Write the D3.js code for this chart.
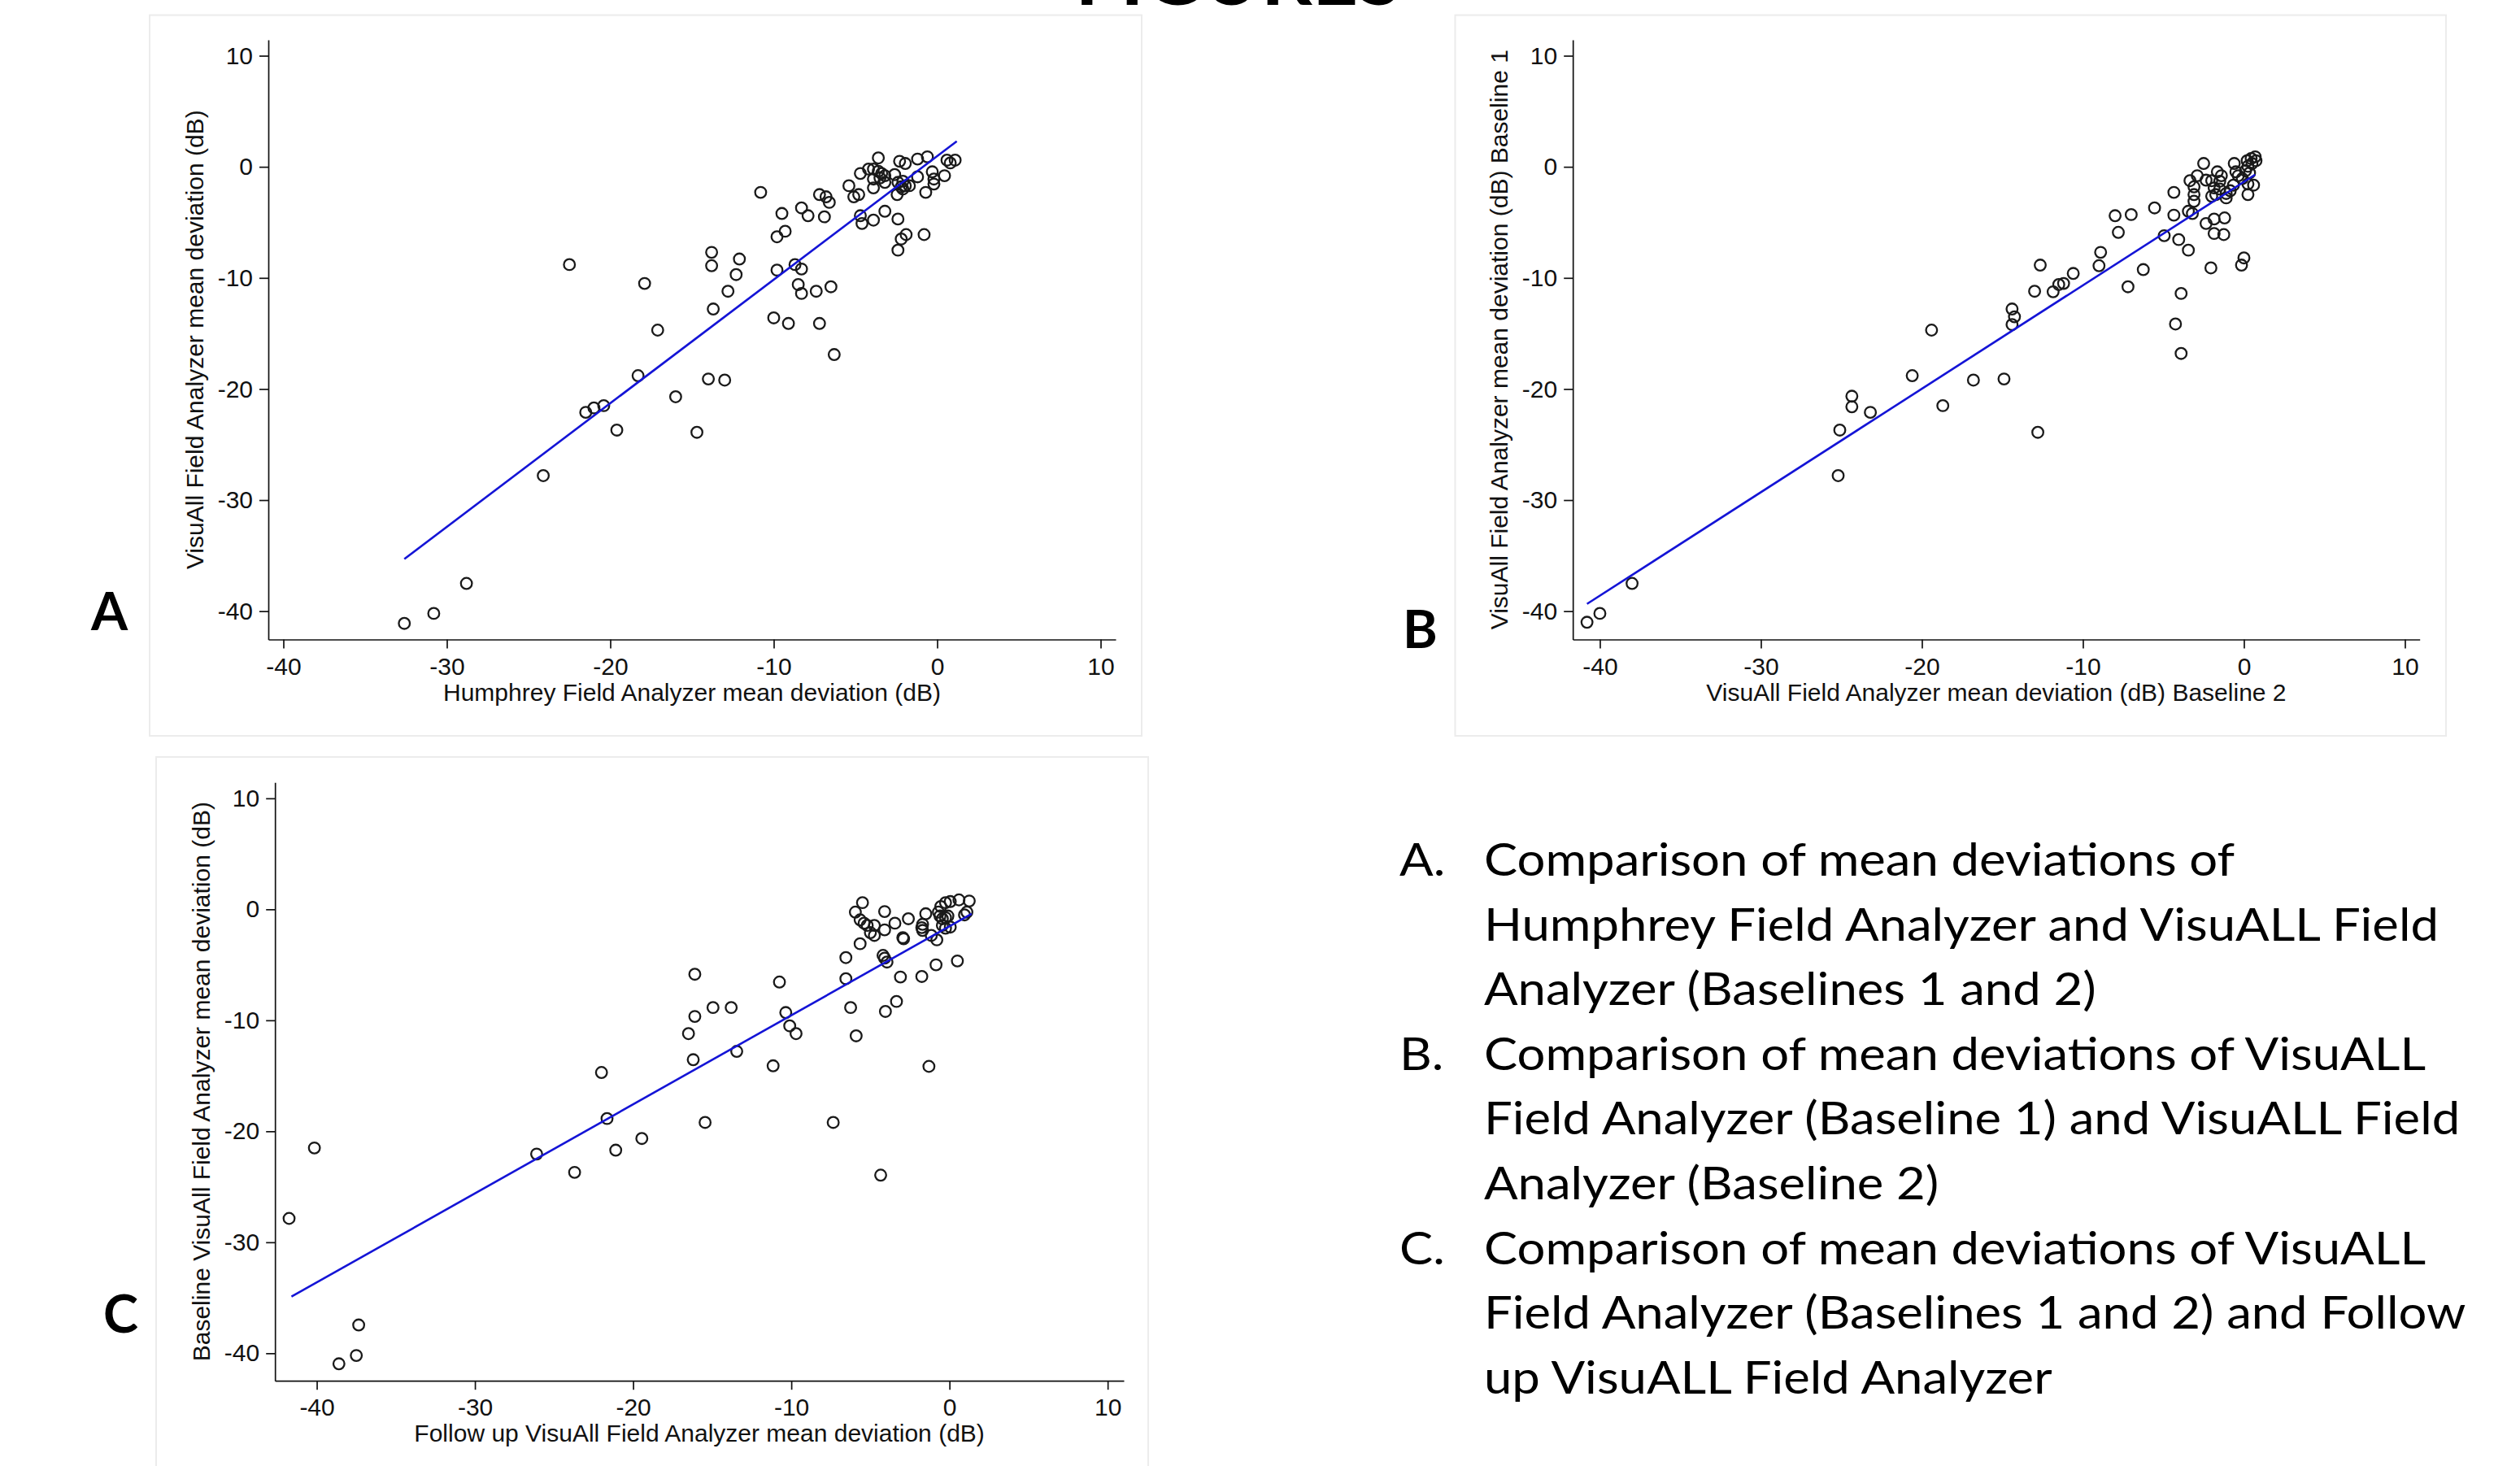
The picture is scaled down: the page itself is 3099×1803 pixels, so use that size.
<!DOCTYPE html>
<html>
<head>
<meta charset="utf-8">
<script src="https://cdn.jsdelivr.net/npm/d3@7"></script>
<style>
  body { margin: 0; background: #fff; }
  svg { display: block; }
</style>
</head>
<body>
<script>
// tick values shared by the three panels
const xTicks = [-40, -30, -20, -10, 0, 10];
const yTicks = [10, 0, -10, -20, -30, -40];

// A: Humphrey MD (x) vs VisuAll MD (y)
const pointsA = [
  [-32.6,-41.1],[-30.8,-40.2],[-28.8,-37.5],[-24.1,-27.8],[-22.5,-8.8],[-17.9,-10.5],[-17.1,-14.7],
  [-18.3,-18.8],[-21.5,-22.1],[-21.0,-21.7],[-20.4,-21.5],[-19.6,-23.7],[-16.0,-20.7],[-14.7,-23.9],
  [-14.0,-19.1],[-13.0,-19.2],[-13.8,-7.7],[-13.8,-8.9],[-13.7,-12.8],[-12.8,-11.2],[-12.3,-9.7],
  [-12.1,-8.3],[-10.8,-2.3],[-9.5,-4.2],[-9.8,-6.3],[-9.3,-5.8],[-10.0,-13.6],[-9.8,-9.3],[-9.1,-14.1],
  [-8.7,-8.8],[-8.3,-9.2],[-8.5,-10.6],[-8.3,-11.4],[-8.3,-3.7],[-7.9,-4.4],[-7.4,-11.2],[-7.2,-14.1],
  [-6.5,-10.8],[-6.3,-16.9],[-7.2,-2.5],[-6.8,-2.7],[-6.6,-3.2],[-6.9,-4.5],
  [-5.4,-1.7],[-5.1,-2.7],[-4.8,-2.5],[-4.7,-0.6],[-4.7,-4.4],[-4.6,-5.1],[-3.9,-4.8],[-3.6,0.8],
  [-4.2,-0.2],[-3.9,-0.2],[-3.6,-0.4],[-3.4,-0.6],[-3.9,-1.1],[-3.5,-1.0],[-3.2,-0.8],[-3.2,-1.4],
  [-3.9,-1.9],[-3.2,-4.0],[-2.6,-0.7],[-2.3,0.5],[-1.95,0.3],[-2.4,-1.4],[-2.1,-1.3],[-1.95,-1.7],
  [-2.2,-1.8],[-1.7,-1.7],[-2.45,-2.5],[-2.1,-2.0],[-2.4,-4.7],[-1.9,-6.1],[-2.2,-6.5],[-2.4,-7.5],
  [-0.8,-6.1],[-1.2,0.7],[-0.6,0.9],[-1.2,-0.9],[-0.7,-2.3],[-0.3,-0.45],[-0.2,-1.1],[-0.2,-1.55],
  [0.45,-0.8],[0.6,0.6],[0.8,0.35],[1.1,0.6]
];
const fitA = [[-32.6, -35.3], [1.2, 2.3]];

// B: VisuAll baseline 2 (x) vs baseline 1 (y)
const pointsB = [
  [-40.8,-41.0],[-40.0,-40.2],[-38.0,-37.5],[-25.2,-27.8],[-25.1,-23.7],[-24.35,-20.65],[-24.35,-21.6],
  [-23.2,-22.1],[-20.6,-18.8],[-19.4,-14.7],[-18.7,-21.5],[-16.8,-19.2],[-14.9,-19.1],[-12.8,-23.9],
  [-12.65,-8.85],[-13.0,-11.2],[-11.85,-11.25],[-11.5,-10.6],[-11.2,-10.5],[-10.6,-9.6],[-14.4,-12.8],
  [-14.25,-13.5],[-14.4,-14.2],[-9.0,-8.9],[-8.9,-7.7],[-8.0,-4.4],[-7.8,-5.9],[-7.0,-4.3],[-7.2,-10.8],
  [-3.9,-11.4],[-4.25,-14.15],[-3.9,-16.8],
  [-6.25,-9.25],[-5.55,-3.7],[-4.95,-6.2],[-4.35,-2.3],[-4.35,-4.35],[-4.05,-6.55],[-3.45,-7.5],
  [-2.5,0.3],[-3.35,-1.25],[-3.1,-1.8],[-3.1,-2.5],[-3.1,-3.1],[-3.45,-4.0],[-3.2,-4.2],[-2.9,-0.8],
  [-2.35,-1.2],[-2.0,-1.25],[-2.35,-5.1],[-1.85,-4.7],[-1.2,-4.6],[-1.85,-6.0],[-1.25,-6.1],[-2.05,-9.1],
  [-0.15,-8.85],[0.0,-8.2],[-1.65,-0.45],[-1.4,-0.8],[-1.5,-1.3],[-1.85,-1.9],[-1.5,-2.0],[-1.75,-2.5],
  [-2.0,-2.65],[-1.1,-2.4],[-1.1,-2.8],[-0.6,0.3],[-0.5,-0.45],[-0.65,-1.65],[-0.85,-2.15],[-0.35,-0.8],
  [-0.1,-1.05],[0.1,-0.35],[0.25,-1.55],[0.6,-1.65],[0.25,-2.5],[0.2,0.55],[0.45,0.75],[0.7,0.9],
  [0.5,0.3],[0.25,0.05],[0.75,0.55],[0.35,-0.55]
];
const fitB = [[-40.8, -39.35], [0.7, -0.7]];

// C: follow up VisuAll (x) vs baseline VisuAll (y)
const pointsC = [
  [-41.75,-27.85],[-40.15,-21.5],[-38.6,-40.95],[-37.5,-40.2],[-37.35,-37.45],[-26.1,-22.05],[-23.7,-23.7],
  [-22.0,-14.7],[-21.65,-18.85],[-21.1,-21.7],[-19.45,-20.65],[-16.1,-5.85],[-16.1,-9.65],[-16.5,-11.2],
  [-16.2,-13.55],[-15.45,-19.2],[-14.95,-8.85],[-13.8,-8.85],[-13.45,-12.8],[-11.15,-14.1],[-10.75,-6.55],
  [-10.35,-9.3],[-10.1,-10.5],[-9.7,-11.2],[-7.35,-19.2],[-6.25,-8.85],[-5.9,-11.4],[-4.35,-23.95],
  [-4.05,-9.2],[-3.35,-8.3],[-1.3,-14.15],
  [-5.5,0.6],[-5.95,-0.25],[-5.65,-0.95],[-5.4,-1.25],[-5.2,-1.45],[-4.75,-1.45],[-5.0,-2.1],[-4.75,-2.35],
  [-5.65,-3.1],[-6.55,-4.35],[-6.55,-6.25],[-4.1,-0.2],[-4.1,-1.85],[-3.45,-1.25],[-4.2,-4.15],[-4.1,-4.4],
  [-3.95,-4.75],[-3.1,-6.1],[-2.95,-2.55],[-2.9,-2.65],[-2.6,-0.85],[-1.75,-6.05],[-1.5,-0.4],[-1.7,-1.35],
  [-1.75,-1.65],[-1.7,-1.9],[-1.15,-2.35],[-0.8,-2.75],[-0.85,-5.0],[0.5,-4.65],[-0.55,0.25],[-0.25,0.6],
  [0.05,0.7],[0.6,0.85],[1.25,0.75],[-0.6,-0.6],[-0.45,-0.85],[-0.25,-0.75],[-0.1,-0.6],[-0.45,-1.45],
  [-0.25,-1.7],[0.05,-1.6],[0.95,-0.5],[1.1,-0.25],[-0.7,-0.25]
];
const fitC = [[-41.6, -34.9], [1.4, -0.4]];

const captions = [
  ["A.", ["Comparison of mean deviations of",
          "Humphrey Field Analyzer and VisuALL Field",
          "Analyzer (Baselines 1 and 2)"]],
  ["B.", ["Comparison of mean deviations of VisuALL",
          "Field Analyzer (Baseline 1) and VisuALL Field",
          "Analyzer (Baseline 2)"]],
  ["C.", ["Comparison of mean deviations of VisuALL",
          "Field Analyzer (Baselines 1 and 2) and Follow",
          "up VisuALL Field Analyzer"]]
];

const width = 3099;
const height = 1803;
const axisFont = '"Liberation Sans", Arial, Helvetica, sans-serif';
const textFont = 'Lato, "Open Sans", sans-serif';

const svg = d3.select("body")
  .append("svg")
  .attr("width", width)
  .attr("height", height);

// page title, mostly cut off at the top
svg.append("text")
  .attr("x", 1523)
  .attr("y", 6)
  .attr("text-anchor", "middle")
  .attr("font-family", textFont)
  .attr("font-weight", 700)
  .attr("font-size", 98)
  .text("FIGURES");

const panels = [
  { points: pointsA, fit: fitA, letter: "A", letterX: 112, letterY: 775,
    frame: [184, 18.6, 1404, 905],
    xDom: [-40.92, 10.92], xRange: [330, 1372],
    yDom: [11.43, -42.55], yRange: [49, 786.5],
    xTitle: "Humphrey Field Analyzer mean deviation (dB)", xTitleY: 862,
    yTitle: "VisuAll Field Analyzer mean deviation (dB)" },
  { points: pointsB, fit: fitB, letter: "B", letterX: 1725, letterY: 797,
    frame: [1789.5, 18.6, 3008, 905],
    xDom: [-41.68, 10.92], xRange: [1934.2, 2975.7],
    yDom: [11.43, -42.55], yRange: [49, 786.5],
    xTitle: "VisuAll Field Analyzer mean deviation (dB) Baseline 2", xTitleY: 862,
    yTitle: "VisuAll Field Analyzer mean deviation (dB) Baseline 1" },
  { points: pointsC, fit: fitC, letter: "C", letterX: 127, letterY: 1639,
    frame: [192, 931, 1412, 1815],
    xDom: [-42.64, 11.02], xRange: [338.2, 1382],
    yDom: [11.44, -42.48], yRange: [962.2, 1698.2],
    xTitle: "Follow up VisuAll Field Analyzer mean deviation (dB)", xTitleY: 1773,
    yTitle: "Baseline VisuAll Field Analyzer mean deviation (dB)" }
];

panels.forEach(p => {
  const g = svg.append("g");

  // light panel frame
  g.append("rect")
    .attr("x", p.frame[0])
    .attr("y", p.frame[1])
    .attr("width", p.frame[2] - p.frame[0])
    .attr("height", p.frame[3] - p.frame[1])
    .attr("fill", "none")
    .attr("stroke", "#ececec")
    .attr("stroke-width", 2);

  const x = d3.scaleLinear().domain(p.xDom).range(p.xRange);
  const y = d3.scaleLinear().domain(p.yDom).range(p.yRange);

  // axes
  const xAxis = g.append("g")
    .attr("transform", `translate(0,${p.yRange[1]})`)
    .call(d3.axisBottom(x).tickValues(xTicks).tickFormat(d => String(d))
      .tickSize(11).tickSizeOuter(0).tickPadding(11));
  const yAxis = g.append("g")
    .attr("transform", `translate(${p.xRange[0]},0)`)
    .call(d3.axisLeft(y).tickValues(yTicks).tickFormat(d => String(d))
      .tickSize(11).tickSizeOuter(0).tickPadding(8));

  [xAxis, yAxis].forEach(a => {
    a.attr("font-family", axisFont).attr("font-size", 30);
    a.select(".domain").attr("stroke", "#111").attr("stroke-width", 1.7);
    a.selectAll(".tick line").attr("stroke", "#111").attr("stroke-width", 1.7);
    a.selectAll(".tick text").attr("fill", "#111");
  });

  // axis titles
  g.append("text")
    .attr("x", (p.xRange[0] + p.xRange[1]) / 2)
    .attr("y", p.xTitleY)
    .attr("text-anchor", "middle")
    .attr("font-family", axisFont)
    .attr("font-size", 30)
    .attr("fill", "#111")
    .text(p.xTitle);

  g.append("text")
    .attr("transform", `translate(${p.xRange[0] - 80.5},${(p.yRange[0] + p.yRange[1]) / 2}) rotate(-90)`)
    .attr("text-anchor", "middle")
    .attr("font-family", axisFont)
    .attr("font-size", 30)
    .attr("fill", "#111")
    .text(p.yTitle);

  // hollow markers
  g.selectAll(".pt")
    .data(p.points)
    .enter()
    .append("circle")
    .attr("class", "pt")
    .attr("cx", d => x(d[0]))
    .attr("cy", d => y(d[1]))
    .attr("r", 6.8)
    .attr("fill", "none")
    .attr("stroke", "#1a1a1a")
    .attr("stroke-width", 2.3);

  // fitted line
  g.append("path")
    .datum(p.fit)
    .attr("d", d3.line().x(d => x(d[0])).y(d => y(d[1])))
    .attr("fill", "none")
    .attr("stroke", "#1414d6")
    .attr("stroke-width", 2.6);

  // panel letter
  svg.append("text")
    .attr("x", p.letterX)
    .attr("y", p.letterY)
    .attr("font-family", textFont)
    .attr("font-weight", 700)
    .attr("font-size", 65)
    .text(p.letter);
});

// captions on the right (Lato stretched a little to match Calibri line widths)
const capX = 1721;
const capTextX = 1825;
const lineH = 79.6;
const capStretch = 1.1;
let line = 0;
function caption(x, y, t) {
  svg.append("text")
    .attr("transform", `translate(${x},${y}) scale(${capStretch},1)`)
    .attr("font-family", textFont)
    .attr("font-size", 56)
    .text(t);
}
captions.forEach(c => {
  caption(capX, 1077 + line * lineH, c[0]);
  c[1].forEach(t => {
    caption(capTextX, 1077 + line * lineH, t);
    line++;
  });
});
</script>
</body>
</html>
